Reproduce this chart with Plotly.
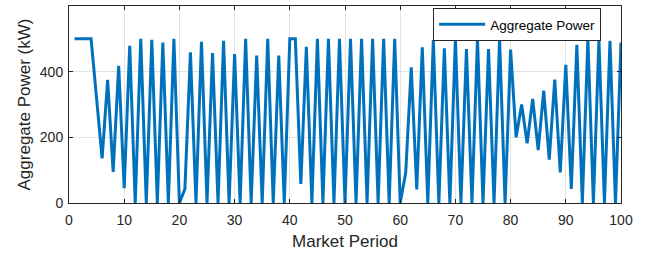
import plotly.graph_objects as go

periods = list(range(1, 101))
power = [500, 500, 500, 500, 318, 136, 375, 95, 418, 45,
         479, 0, 500, 0, 497, 0, 489, 0, 500, 0,
         43, 459, 0, 491, 0, 457, 0, 494, 0, 454,
         0, 500, 0, 449, 0, 500, 0, 449, 0, 500,
         500, 58, 476, 0, 500, 0, 500, 0, 500, 0,
         500, 0, 500, 0, 500, 0, 500, 0, 500, 0,
         93, 413, 41, 474, 0, 496, 0, 471, 0, 500,
         0, 469, 0, 500, 0, 469, 0, 500, 0, 467,
         200, 300, 182, 317, 161, 342, 132, 376, 93, 421,
         43, 482, 0, 500, 0, 496, 0, 494, 0, 489]
x_ticks = [0, 10, 20, 30, 40, 50, 60, 70, 80, 90, 100]
y_ticks = [0, 200, 400, 600]

FONT = "Liberation Sans, Arial, Helvetica"
TXT = "#262626"

fig = go.Figure()
fig.add_trace(go.Scatter(x=periods, y=power, mode="lines", name="Aggregate Power",
                         line=dict(color="#0072BD", width=3)))

axis_common = dict(showline=True, linecolor=TXT, linewidth=1, mirror="ticks",
                   ticks="inside", ticklen=4, tickcolor=TXT,
                   showgrid=True, gridcolor="#E3E3E3", gridwidth=1, zeroline=False,
                   automargin=False,
                   tickfont=dict(family=FONT, size=14, color=TXT))

fig.update_xaxes(range=[0, 100], tickvals=x_ticks, ticklabelstandoff=4,
                 title=dict(text="Market Period", standoff=8,
                            font=dict(family=FONT, size=17, color=TXT)),
                 **axis_common)
fig.update_yaxes(range=[0, 600], tickvals=y_ticks, ticklabelstandoff=2,
                 title=dict(text="Aggregate Power (kW)", standoff=4,
                            font=dict(family=FONT, size=17, color=TXT)),
                 **axis_common)

fig.update_layout(width=650, height=255, plot_bgcolor="white", paper_bgcolor="white",
                  margin=dict(l=69, r=29, t=6, b=52),
                  showlegend=True,
                  legend=dict(x=0.964, y=0.99, xanchor="right", yanchor="top",
                              bgcolor="white", bordercolor=TXT, borderwidth=1,
                              font=dict(family=FONT, size=13.5, color="black"),
                              itemwidth=46, tracegroupgap=0))
fig.write_html("out.html", config={"displayModeBar": False},
               post_script="document.body.style.margin='0';document.body.style.padding='0';")
